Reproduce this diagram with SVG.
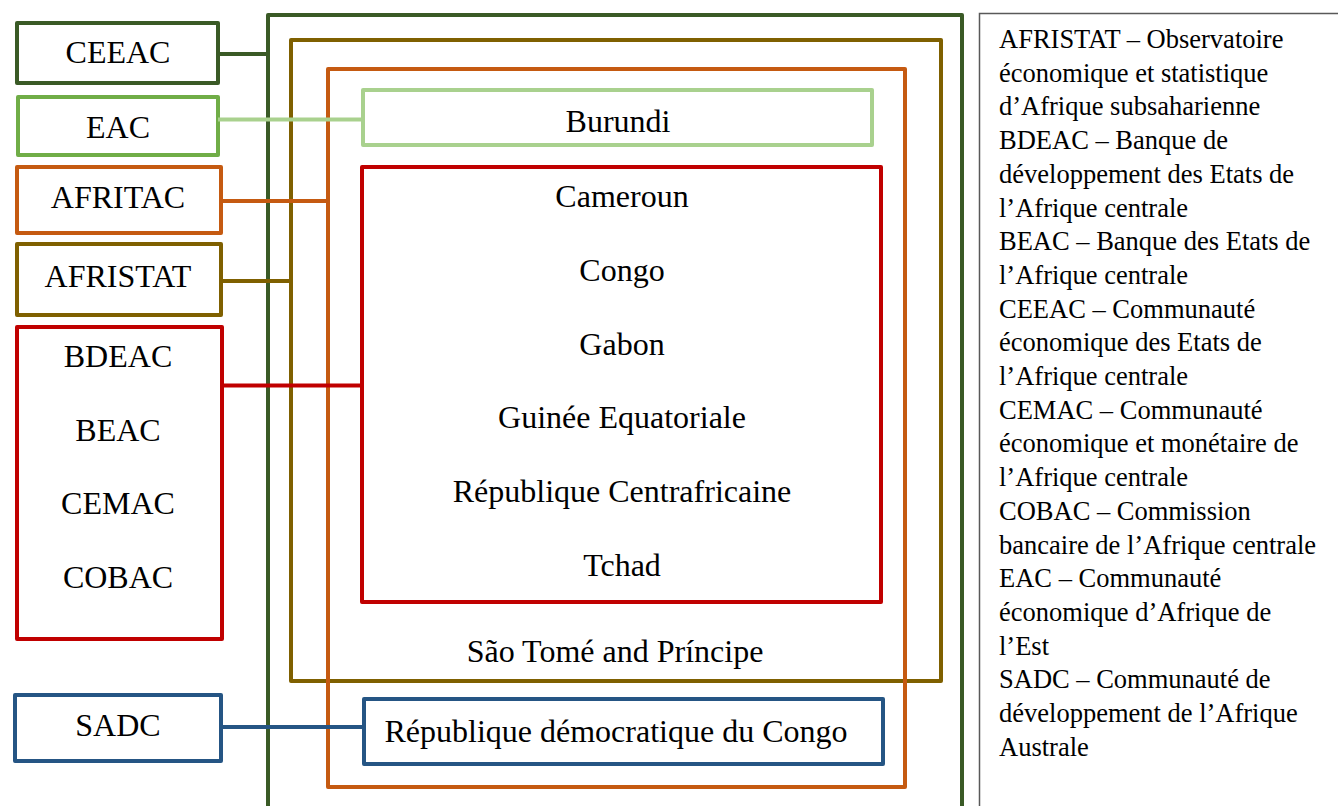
<svg xmlns="http://www.w3.org/2000/svg" width="1338" height="806" viewBox="0 0 1338 806">
<style>
  .box { fill: none; stroke-width: 4; stroke-linejoin: round; }
  .lbl { font-family: "Liberation Serif", "Times New Roman", serif; font-size: 32px; fill: #000; text-anchor: middle; }
  .leg { font-family: "Liberation Serif", "Times New Roman", serif; font-size: 26.5px; fill: #000; }
  .con { fill: none; stroke-width: 4; }
  .dg { stroke: #3A5A26; }
  .g { stroke: #70AD47; }
  .lg { stroke: #A9D18E; }
  .or { stroke: #C55A11; }
  .ol { stroke: #7F6000; }
  .rd { stroke: #C00000; }
  .bl { stroke: #255584; }
</style>
<rect width="1338" height="806" fill="#fff"/>

<g id="ceeac-frame"><path class="box dg" d="M268,810 V15 H962 V810"/></g>
<g id="afristat-frame"><rect class="box ol" x="291" y="40" width="650" height="641"/>
  <text class="lbl" x="615" y="662">São Tomé and Príncipe</text></g>
<g id="afritac-frame"><rect class="box or" x="328" y="69" width="577" height="718"/></g>
<g id="burundi"><rect class="box lg" x="363" y="90" width="509" height="55"/>
  <text class="lbl" x="618" y="132">Burundi</text></g>
<g id="cemac-countries"><rect class="box rd" x="362" y="167" width="519" height="435"/>
  <text class="lbl" x="622" y="207">Cameroun</text>
  <text class="lbl" x="622" y="281">Congo</text>
  <text class="lbl" x="622" y="355">Gabon</text>
  <text class="lbl" x="622" y="428">Guinée Equatoriale</text>
  <text class="lbl" x="622" y="502">République Centrafricaine</text>
  <text class="lbl" x="622" y="576">Tchad</text></g>
<g id="rdc"><rect class="box bl" x="364" y="699" width="519" height="65"/>
  <text class="lbl" x="616" y="742">République démocratique du Congo</text></g>

<g id="CEEAC"><rect class="box dg" x="17" y="23" width="201" height="60"/><text class="lbl" x="118" y="63">CEEAC</text></g>
<g id="EAC"><rect class="box g" x="18" y="97" width="200" height="58"/><text class="lbl" x="118" y="138">EAC</text></g>
<g id="AFRITAC"><rect class="box or" x="17" y="167" width="204" height="66"/><text class="lbl" x="118" y="208">AFRITAC</text></g>
<g id="AFRISTAT"><rect class="box ol" x="17" y="244" width="204" height="71"/><text class="lbl" x="118" y="287">AFRISTAT</text></g>
<g id="CEMAC-group"><rect class="box rd" x="17" y="327" width="205" height="312"/>
  <text class="lbl" x="118" y="367">BDEAC</text>
  <text class="lbl" x="118" y="441">BEAC</text>
  <text class="lbl" x="118" y="514">CEMAC</text>
  <text class="lbl" x="118" y="588">COBAC</text></g>
<g id="SADC"><rect class="box bl" x="15" y="695" width="206" height="66"/><text class="lbl" x="118" y="736">SADC</text></g>

<g id="connectors">
  <line class="con dg" x1="218" y1="54" x2="268" y2="54"/>
  <line class="con lg" x1="218" y1="119.5" x2="363" y2="119.5" stroke-width="3.5"/>
  <line class="con or" x1="221" y1="201" x2="328" y2="201"/>
  <line class="con ol" x1="221" y1="281" x2="291" y2="281"/>
  <line class="con rd" x1="222" y1="385.5" x2="362" y2="385.5"/>
  <line class="con bl" x1="221" y1="727" x2="364" y2="727"/>
</g>

<g id="legend">
  <rect x="979.5" y="13.5" width="400" height="800" fill="none" stroke="#595959" stroke-width="1.5"/>
  <text class="leg" x="999" y="48">AFRISTAT – Observatoire</text>
  <text class="leg" x="999" y="81.7">économique et statistique</text>
  <text class="leg" x="999" y="115.4">d’Afrique subsaharienne</text>
  <text class="leg" x="999" y="149.1">BDEAC – Banque de</text>
  <text class="leg" x="999" y="182.8">développement des Etats de</text>
  <text class="leg" x="999" y="216.5">l’Afrique centrale</text>
  <text class="leg" x="999" y="250.2">BEAC – Banque des Etats de</text>
  <text class="leg" x="999" y="283.9">l’Afrique centrale</text>
  <text class="leg" x="999" y="317.6">CEEAC – Communauté</text>
  <text class="leg" x="999" y="351.3">économique des Etats de</text>
  <text class="leg" x="999" y="385">l’Afrique centrale</text>
  <text class="leg" x="999" y="418.7">CEMAC – Communauté</text>
  <text class="leg" x="999" y="452.4">économique et monétaire de</text>
  <text class="leg" x="999" y="486.1">l’Afrique centrale</text>
  <text class="leg" x="999" y="519.8">COBAC – Commission</text>
  <text class="leg" x="999" y="553.5">bancaire de l’Afrique centrale</text>
  <text class="leg" x="999" y="587.2">EAC – Communauté</text>
  <text class="leg" x="999" y="620.9">économique d’Afrique de</text>
  <text class="leg" x="999" y="654.6">l’Est</text>
  <text class="leg" x="999" y="688.3">SADC – Communauté de</text>
  <text class="leg" x="999" y="722">développement de l’Afrique</text>
  <text class="leg" x="999" y="755.7">Australe</text>
</g>
</svg>
